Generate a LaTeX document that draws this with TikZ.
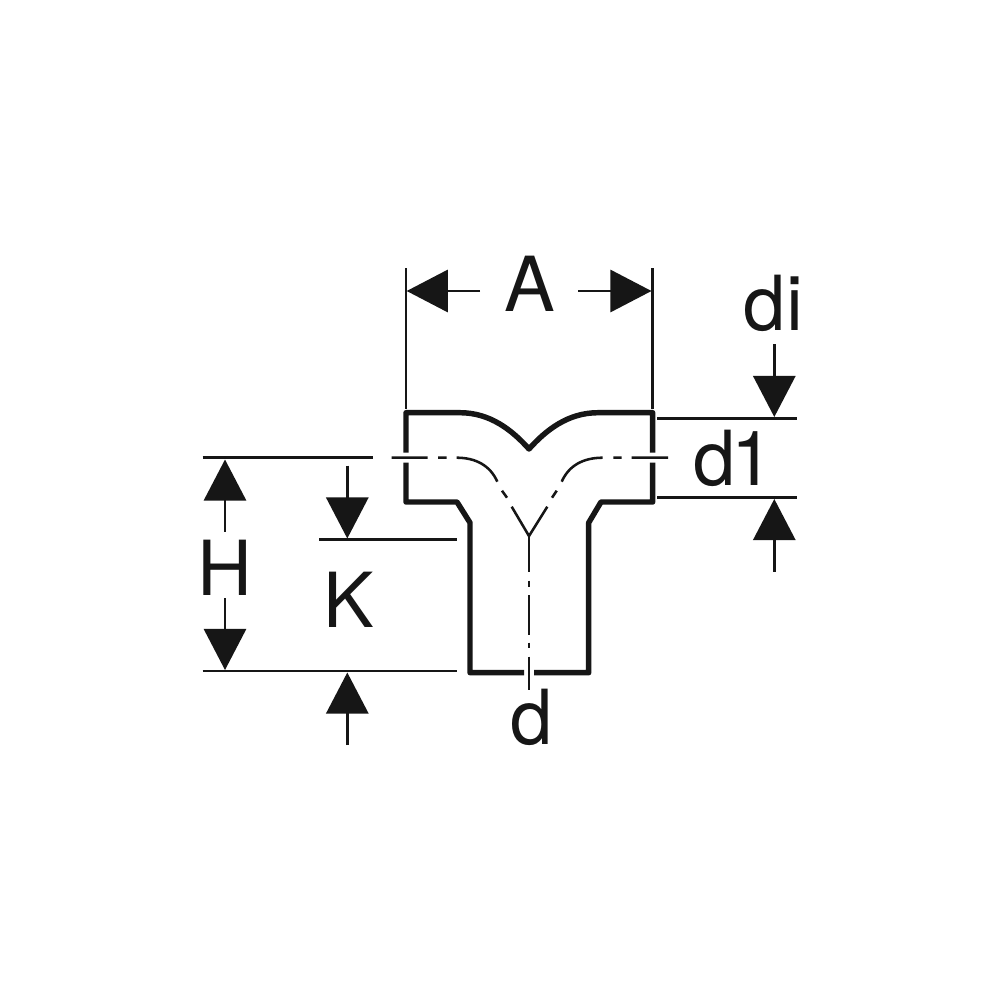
\documentclass[tikz,border=0pt]{standalone}
\usepackage{fontspec}
\setmainfont{TeX Gyre Heros}
\usetikzlibrary{arrows.meta}
\definecolor{ink}{HTML}{161616}
\tikzset{
  body/.style={draw=ink,line width=1.55pt,line join=round,line cap=butt},
  thin line/.style={draw=ink,line width=0.72pt},
  centre/.style={draw=ink,line width=0.72pt},
  dim/.style={draw=ink,line width=0.72pt,-{Triangle[length=11.7pt,width=12pt]}},
  lab/.style={inner sep=0pt,anchor=base,text=ink,font=\fontsize{21.6pt}{24pt}\selectfont}
}
\begin{document}
\begin{tikzpicture}[x=0.01cm,y=-0.01cm]
\useasboundingbox (0,0) rectangle (1000,1000);
\fill[white] (0,0) rectangle (1000,1000);
% body outline
\draw[body] (406,452.7) -- (406,412.7) -- (460,412.7) .. controls (490,412.7) and (512,430) .. (529,449)
  .. controls (546,430) and (568,412.7) .. (598,412.7) -- (652.7,412.7) -- (652.7,452.7);
\draw[body] (406,462.7) -- (406,502) -- (457,502) -- (470,522.7) -- (470,672.7) -- (524,672.7);
\draw[body] (652.7,462.7) -- (652.7,502) -- (601,502) -- (588.7,522.7) -- (588.7,672.7) -- (534,672.7);
% centre lines
\draw[centre] (391.7,457.7) -- (427.7,457.7) (438,457.7) -- (446.7,457.7)
  (456.7,457.7) .. controls (475,457.7) and (490,465) .. (497.3,481.7)
  (502,490.7) -- (507,497.7)
  (511.7,506.7) -- (529,536) -- (547.3,506.7)
  (552,497.7) -- (556.7,490.7)
  (561.7,481.7) .. controls (569,465) and (584,457.7) .. (602.7,457.7)
  (613.3,457.7) -- (621.7,457.7) (631.7,457.7) -- (668,457.7);
\draw[centre] (529,536) -- (529,572.3) (529,580.7) -- (529,586.7) (529,595) -- (529,635)
  (529,642.7) -- (529,648.3) (529,656.7) -- (529,690);
% extension lines
\draw[thin line] (406,268) -- (406,409);
\draw[thin line] (652.3,268) -- (652.3,409);
\draw[thin line] (657.3,418.3) -- (797.3,418.3);
\draw[thin line] (657.3,497.3) -- (797.3,497.3);
\draw[thin line] (202.7,457.3) -- (372.7,457.3);
\draw[thin line] (319,539.3) -- (457.3,539.3);
\draw[thin line] (202.7,671) -- (457.3,671);
% labels
\node[lab] (labA) at (529.5,311.7) {A};
\node[lab] (labdi) at (773.5,330.7) {di};
\node[lab] (labdo) at (733.5,485) {d\kern-0.05em 1};
\node[lab] (labH) at (225,595.7) {H};
\node[lab] (labK) at (349,627) {K};
\node[lab] (labd) at (532,744) {d};
% dimension arrows
\coordinate (a1s) at (480,291); \coordinate (a1e) at (406.7,291);
\coordinate (a2s) at (578.3,291); \coordinate (a2e) at (651.5,291);
\coordinate (b1s) at (774.3,344); \coordinate (b1e) at (774.3,417);
\coordinate (b2s) at (774.3,571.7); \coordinate (b2e) at (774.3,499);
\coordinate (c1s) at (225,531.7); \coordinate (c1e) at (225,459.5);
\coordinate (c2s) at (225,598.3); \coordinate (c2e) at (225,670);
\coordinate (k1s) at (347.3,465.7); \coordinate (k1e) at (347.3,538.5);
\coordinate (k2s) at (347.3,745); \coordinate (k2e) at (347.3,672.5);
\draw[dim] (a1s) -- (a1e);
\draw[dim] (a2s) -- (a2e);
\draw[dim] (b1s) -- (b1e);
\draw[dim] (b2s) -- (b2e);
\draw[dim] (c1s) -- (c1e);
\draw[dim] (c2s) -- (c2e);
\draw[dim] (k1s) -- (k1e);
\draw[dim] (k2s) -- (k2e);
\end{tikzpicture}
\end{document}
